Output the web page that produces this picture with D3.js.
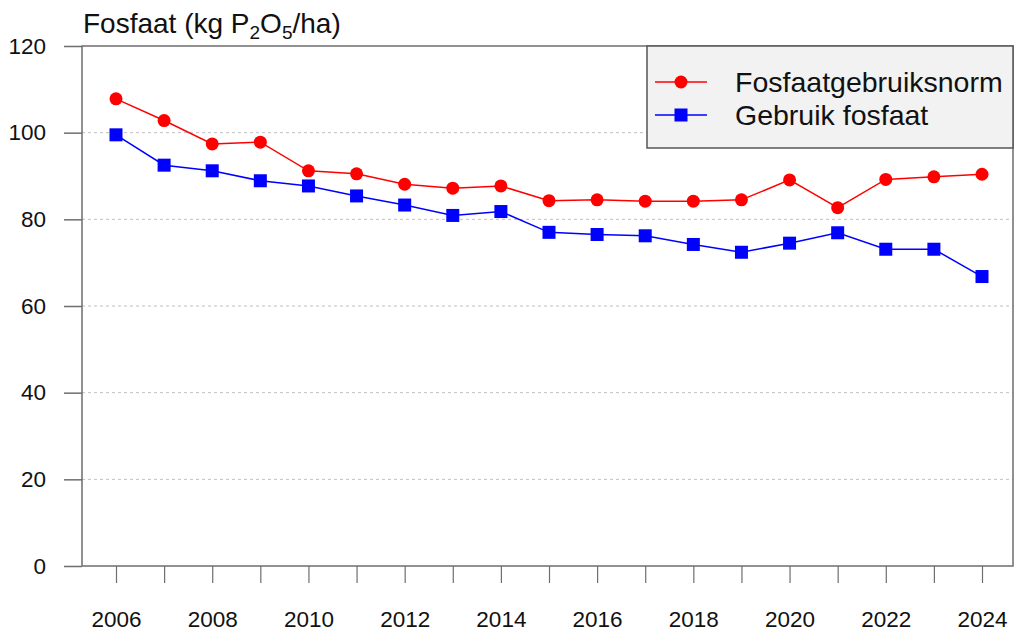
<!DOCTYPE html>
<html>
<head>
<meta charset="utf-8">
<script src="https://cdn.jsdelivr.net/npm/d3@7"></script>
<style>
  body { margin: 0; background: #fff; }
  svg text { font-family: "Liberation Sans", Arial, sans-serif; fill: #111; }
</style>
</head>
<body>
<div id="chart"></div>
<script>
// jaren en waarden (kg P2O5/ha)
const years = [2006, 2007, 2008, 2009, 2010, 2011, 2012, 2013, 2014, 2015,
               2016, 2017, 2018, 2019, 2020, 2021, 2022, 2023, 2024];
const normValues = [107.8, 102.8, 97.4, 97.8, 91.2, 90.5, 88.1, 87.2, 87.7, 84.3,
                    84.5, 84.2, 84.2, 84.5, 89.1, 82.7, 89.2, 89.8, 90.4];
const useValues = [99.5, 92.5, 91.2, 88.9, 87.7, 85.4, 83.3, 80.9, 81.8, 77.0,
                   76.5, 76.2, 74.2, 72.4, 74.5, 76.9, 73.1, 73.1, 66.8];
const yTicks = [0, 20, 40, 60, 80, 100, 120];
const xLabels = [2006, 2008, 2010, 2012, 2014, 2016, 2018, 2020, 2022, 2024];
const seriesNames = ['Fosfaatgebruiksnorm', 'Gebruik fosfaat'];

const width = 1017, height = 632;
const plotLeft = 82, plotRight = 1013, plotTop = 46, plotBottom = 566;

const svg = d3.select('#chart').append('svg')
    .attr('width', width)
    .attr('height', height);

const x = d3.scaleLinear().domain([2006, 2024]).range([116, 982]);
const y = d3.scaleLinear().domain([0, 120]).range([plotBottom, plotTop]);

// gestippelde hulplijnen
svg.append('g')
    .selectAll('line')
    .data(yTicks.filter(d => d > 0 && d < 120))
    .join('line')
    .attr('x1', plotLeft).attr('x2', plotRight)
    .attr('y1', d => y(d)).attr('y2', d => y(d))
    .attr('stroke', '#c0c0c0')
    .attr('stroke-width', 1)
    .attr('stroke-dasharray', '3,3');

// y-as
const yAxis = svg.append('g')
    .attr('transform', `translate(${plotLeft},0)`)
    .call(d3.axisLeft(y).tickValues(yTicks).tickSize(18).tickPadding(18));
yAxis.select('.domain').remove();
yAxis.selectAll('.tick line').attr('stroke', '#6e6e6e').attr('stroke-width', 1.5);
yAxis.selectAll('.tick text')
    .style('font-size', '22.5px')
    .attr('fill', '#111');

// x-as
const xAxis = svg.append('g')
    .attr('transform', `translate(0,${plotBottom})`)
    .call(d3.axisBottom(x).tickValues(years).tickSize(17).tickPadding(28)
        .tickFormat(d => xLabels.includes(d) ? d : ''));
xAxis.select('.domain').remove();
xAxis.selectAll('.tick line').attr('stroke', '#6e6e6e').attr('stroke-width', 1.2);
xAxis.selectAll('.tick text')
    .style('font-size', '22.5px')
    .attr('fill', '#111');

// kader
svg.append('rect')
    .attr('x', plotLeft).attr('y', plotTop)
    .attr('width', plotRight - plotLeft).attr('height', plotBottom - plotTop)
    .attr('fill', 'none')
    .attr('stroke', '#6e6e6e')
    .attr('stroke-width', 1.5);

// reeksen
const line = d3.line().x((d, i) => x(years[i])).y(d => y(d));

svg.append('path')
    .datum(normValues)
    .attr('d', line)
    .attr('fill', 'none')
    .attr('stroke', '#ff0000')
    .attr('stroke-width', 1.5);

svg.append('path')
    .datum(useValues)
    .attr('d', line)
    .attr('fill', 'none')
    .attr('stroke', '#0000ff')
    .attr('stroke-width', 1.5);

svg.append('g')
    .selectAll('circle')
    .data(normValues)
    .join('circle')
    .attr('cx', (d, i) => x(years[i]))
    .attr('cy', d => y(d))
    .attr('r', 6.5)
    .attr('fill', '#ff0000');

const sq = 13;
svg.append('g')
    .selectAll('rect')
    .data(useValues)
    .join('rect')
    .attr('x', (d, i) => x(years[i]) - sq / 2)
    .attr('y', d => y(d) - sq / 2)
    .attr('width', sq).attr('height', sq)
    .attr('fill', '#0000ff');

// legenda
const legend = svg.append('g');
legend.append('rect')
    .attr('x', 647).attr('y', plotTop)
    .attr('width', plotRight - 647).attr('height', 102)
    .attr('fill', '#f2f2f2')
    .attr('stroke', '#555')
    .attr('stroke-width', 1.5);

const legendRows = [
    {name: seriesNames[0], color: '#ff0000', shape: 'circle', ly: 82},
    {name: seriesNames[1], color: '#0000ff', shape: 'square', ly: 115}
];
legendRows.forEach(r => {
    legend.append('line')
        .attr('x1', 655).attr('x2', 707)
        .attr('y1', r.ly).attr('y2', r.ly)
        .attr('stroke', r.color).attr('stroke-width', 1.5);
    if (r.shape === 'circle') {
        legend.append('circle').attr('cx', 681).attr('cy', r.ly).attr('r', 6.5).attr('fill', r.color);
    } else {
        legend.append('rect').attr('x', 681 - sq / 2).attr('y', r.ly - sq / 2)
            .attr('width', sq).attr('height', sq).attr('fill', r.color);
    }
    legend.append('text')
        .attr('x', 735).attr('y', r.ly)
        .attr('dy', '0.35em')
        .style('font-size', '28.5px')
        .text(r.name);
});

// titel
const title = svg.append('text')
    .attr('x', 83).attr('y', 33)
    .style('font-size', '28px');
title.append('tspan').text('Fosfaat (kg P');
title.append('tspan').attr('dy', 6).style('font-size', '19px').text('2');
title.append('tspan').attr('dy', -6).text('O');
title.append('tspan').attr('dy', 6).style('font-size', '19px').text('5');
title.append('tspan').attr('dy', -6).text('/ha)');
</script>
</body>
</html>
